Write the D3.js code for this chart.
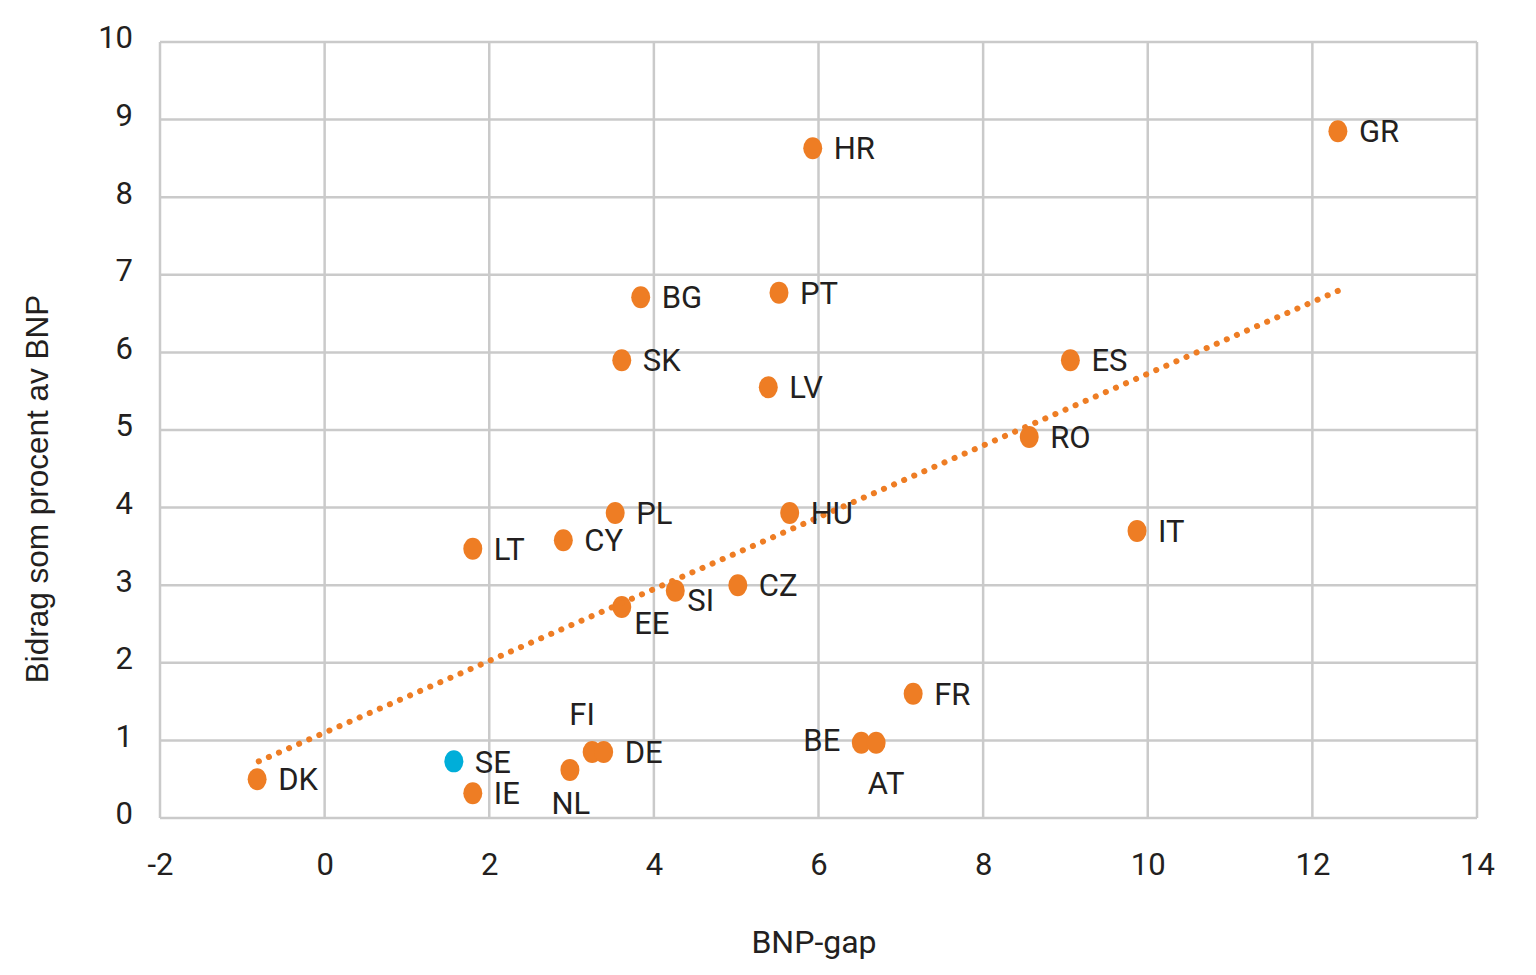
<!DOCTYPE html>
<html>
<head>
<meta charset="utf-8">
<script src="https://cdn.jsdelivr.net/npm/d3@7"></script>
<style>
  body { margin: 0; background: #fff; }
  text { font-family: Roboto, "Noto Sans", sans-serif; fill: #231f20; }
</style>
</head>
<body>
<div id="scatter"></div>
<script>
// values
const countries = ["DK", "SE", "IE", "NL", "FI", "DE", "BE", "AT", "FR", "EE", "SI", "CZ", "LT", "CY", "PL",
                   "HU", "IT", "RO", "ES", "LV", "SK", "BG", "PT", "HR", "GR"];
const bnpGap    = [-0.82, 1.57, 1.80, 2.98, 3.25, 3.39, 6.52, 6.70, 7.15, 3.61, 4.26, 5.02, 1.80, 2.90, 3.53,
                   5.65, 9.87, 8.56, 9.06, 5.39, 3.61, 3.84, 5.52, 5.93, 12.31];
const bidrag    = [0.50, 0.73, 0.32, 0.62, 0.85, 0.85, 0.97, 0.97, 1.60, 2.72, 2.93, 3.00, 3.47, 3.58, 3.93,
                   3.93, 3.70, 4.91, 5.90, 5.55, 5.90, 6.71, 6.77, 8.63, 8.85];
// where each label sits relative to its point
const labelSide = ["right", "right", "right", "belowNL", "above", "right", "left", "below", "right", "belowRight",
                   "rightLow", "right", "right", "right", "right", "right", "right", "right", "right", "right",
                   "right", "right", "right", "right", "right"];
const highlight = "SE";

// trendline end points (as drawn in the reference)
const trendX = [-0.80, 12.39];
const trendY = [0.73, 6.83];

const xTicks = [-2, 0, 2, 4, 6, 8, 10, 12, 14];
const yTicks = [0, 1, 2, 3, 4, 5, 6, 7, 8, 9, 10];
const xLabel = "BNP-gap";
const yLabel = "Bidrag som procent av BNP";

const orange = "#ee7d24", blue = "#00aed9", grid = "#cacaca";

var margin = {top: 42, right: 59, bottom: 157, left: 160},
    width = 1536 - margin.left - margin.right,
    height = 975 - margin.top - margin.bottom;

const svg = d3.select("#scatter")
  .append("svg")
    .attr("width", 1536)
    .attr("height", 975)
  .append("g")
    .attr("transform", `translate(${margin.left}, ${margin.top})`);

var x = d3.scaleLinear().domain([-2, 14]).range([0, width]);
var y = d3.scaleLinear().domain([0, 10]).range([height, 0]);

// grid
svg.append("g")
  .selectAll("line.v")
  .data(xTicks)
  .enter().append("line")
    .attr("x1", d => x(d)).attr("x2", d => x(d))
    .attr("y1", 0).attr("y2", height)
    .attr("stroke", grid).attr("stroke-width", 2.5);

svg.append("g")
  .selectAll("line.h")
  .data(yTicks)
  .enter().append("line")
    .attr("x1", 0).attr("x2", width)
    .attr("y1", d => y(d)).attr("y2", d => y(d))
    .attr("stroke", grid).attr("stroke-width", 2.5);

// X axis (plain hyphen for negatives, like the original)
var xAxisG = svg.append("g")
  .attr("transform", "translate(0," + height + ")")
  .call(d3.axisBottom(x).tickValues(xTicks).tickSize(0).tickPadding(35).tickFormat(d => String(d)));
xAxisG.select(".domain").remove();
xAxisG.selectAll("text").attr("font-size", 31).style("font-family", "Roboto").attr("fill", "#231f20");

// Y axis
var yAxisG = svg.append("g")
  .call(d3.axisLeft(y).tickValues(yTicks).tickSize(0).tickPadding(27).tickFormat(d => String(d)));
yAxisG.select(".domain").remove();
yAxisG.selectAll("text").attr("font-size", 31).attr("y", -4).style("font-family", "Roboto").attr("fill", "#231f20");

svg.append("text")
  .attr("x", 814 - margin.left)
  .attr("y", height + 135)
  .attr("text-anchor", "middle")
  .attr("font-size", 32)
  .text(xLabel);

svg.append("text")
  .attr("transform", `translate(${37 - margin.left}, ${489 - margin.top}) rotate(-90)`)
  .attr("text-anchor", "middle")
  .attr("dy", "0.35em")
  .attr("font-size", 31.5)
  .style("font-family", "'Liberation Sans', Arial, sans-serif")
  .text(yLabel);

// points
const points = countries.map((c, i) => ({name: c, gap: bnpGap[i], val: bidrag[i], side: labelSide[i]}));

svg.append("g")
  .selectAll("ellipse")
  .data(points)
  .enter().append("ellipse")
    .attr("cx", d => x(d.gap))
    .attr("cy", d => y(d.val))
    .attr("rx", 9.5)
    .attr("ry", 11)
    .attr("fill", d => d.name === highlight ? blue : orange);

// dotted trendline, on top of the points
svg.append("line")
  .attr("x1", x(trendX[0])).attr("y1", y(trendY[0]))
  .attr("x2", x(trendX[1])).attr("y2", y(trendY[1]))
  .attr("stroke", orange)
  .attr("stroke-width", 6)
  .attr("stroke-linecap", "round")
  .attr("stroke-dasharray", "0.1 10.9");

// labels
const place = {
  right:      {dx: 21,  dy: 0,   anchor: "start"},
  rightLow:   {dx: 12,  dy: 9,   anchor: "start"},
  left:       {dx: -21, dy: -3,  anchor: "end"},
  below:      {dx: 10,  dy: 40,  anchor: "middle"},
  belowNL:    {dx: 1,   dy: 33,  anchor: "middle"},
  belowRight: {dx: 30,  dy: 16,  anchor: "middle"},
  above:      {dx: -10, dy: -38, anchor: "middle"}
};

svg.append("g")
  .selectAll("text")
  .data(points)
  .enter().append("text")
    .attr("x", d => x(d.gap) + place[d.side].dx)
    .attr("y", d => y(d.val) + place[d.side].dy)
    .attr("dy", "0.36em")
    .attr("text-anchor", d => place[d.side].anchor)
    .attr("font-size", 31)
    .text(d => d.name);
</script>
</body>
</html>
